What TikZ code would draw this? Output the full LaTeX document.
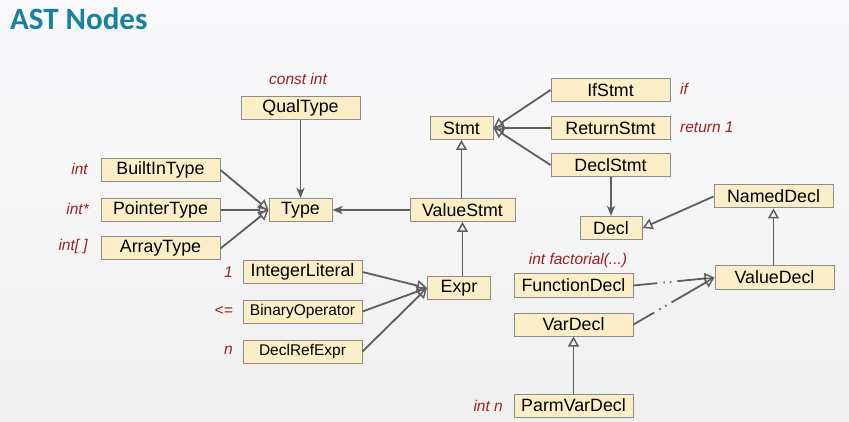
\documentclass[tikz,border=0pt]{standalone}
\usepackage{fontspec}
\setmainfont{Liberation Sans}
\newfontfamily\titlefont{Carlito}
\usetikzlibrary{arrows.meta}
\definecolor{boxfill}{HTML}{FCEFC8}
\definecolor{boxline}{HTML}{8C8C8C}
\definecolor{edge}{HTML}{5E5E5E}
\definecolor{notered}{HTML}{9E1F1F}
\definecolor{titleblue}{HTML}{17829F}
\begin{document}
\begin{tikzpicture}[x=1pt,y=-1pt,
  cls/.style={draw=boxline,line width=1pt,fill=boxfill,inner sep=0pt,
    minimum height=23pt,font=\fontsize{17.8}{18}\selectfont},
  wide/.style={cls,minimum width=119pt},
  narrow/.style={cls,minimum width=63pt},
  smalltext/.style={font=\fontsize{15.5}{16}\selectfont},
  note/.style={text=notered,inner sep=0pt,font=\fontsize{15.5}{16}\selectfont\itshape},
  isa/.style={draw=edge,line width=1.8pt,-{Triangle[open,length=10pt,width=11pt,line width=1.5pt]}},
  uses/.style={draw=edge,line width=1.8pt,-{Stealth[length=10pt,width=8pt,inset=2.5pt]}},
  weak/.style={isa,dash pattern=on 24pt off 6pt on 1.5pt off 5pt on 1.5pt off 6pt on 200pt}]
% page and background
\useasboundingbox (0,0) rectangle (849,422);
\shade[top color=white!97!blue!50!white, bottom color=black!6] (0,0) rectangle (849,422);
\fill[white!97!black,opacity=0.4] (0,0) rectangle (849,250);

\node[anchor=base west,inner sep=0pt,text=titleblue,font=\titlefont\bfseries\fontsize{31}{32}\selectfont] (title) at (10,30) {AST Nodes};

% type hierarchy
\node[wide] (qual) at (300.5,108) {QualType};
\node[wide] (builtin) at (160.5,170) {BuiltInType};
\node[wide] (pointer) at (160.5,210) {PointerType};
\node[wide] (array) at (160.5,248.5) {ArrayType};
\node[narrow] (type) at (300.5,210) {Type};

% statements
\node[narrow] (stmt) at (461.5,128) {Stmt};
\node[wide] (ifs) at (610.5,90) {IfStmt};
\node[wide] (ret) at (610.5,128) {ReturnStmt};
\node[wide] (dstmt) at (610.5,165) {DeclStmt};
\node[cls,minimum width=105pt] (vstmt) at (462.5,210) {ValueStmt};

% expressions
\node[narrow] (expr) at (459,288) {Expr};
\node[wide] (intlit) at (302.5,272) {IntegerLiteral};
\node[wide,smalltext] (binop) at (302.5,311.5) {BinaryOperator};
\node[wide,smalltext] (dref) at (302.5,351.5) {DeclRefExpr};

% declarations
\node[cls,minimum width=62pt] (decl) at (611,228) {Decl};
\node[wide] (named) at (773.5,196.5) {NamedDecl};
\node[wide] (value) at (774.5,277.5) {ValueDecl};
\node[wide] (func) at (573.5,285.5) {FunctionDecl};
\node[wide] (var) at (573.5,324.5) {VarDecl};
\node[wide] (parm) at (573.5,405.5) {ParmVarDecl};

% example notes
\node[note] (nconst) at (298,79) {const int};
\node[note,anchor=east] (nint) at (88,169) {int};
\node[note,anchor=east] (nptr) at (89,209) {int*};
\node[note,anchor=east] (narr) at (88,246.5) {int[ ]};
\node[note,anchor=west] (nif) at (680,89) {if};
\node[note,anchor=west] (nret) at (680,127.5) {return 1};
\node[note,anchor=east] (none) at (233,272.5) {1};
\node[note,anchor=east] (nle) at (233,311) {<=};
\node[note,anchor=east] (nn) at (233,350) {n};
\node[note] (nfunc) at (578,260) {int factorial(...)};
\node[note,anchor=east] (nparm) at (503,406) {int n};

% connectors
\draw[uses] (qual) -- (type);
\draw[isa] (builtin.east) -- (type.west);
\draw[isa] (pointer.east) -- (type.west);
\draw[isa] (array.east) -- (type.west);
\draw[uses] (vstmt.west) -- (type.east);
\draw[isa] (vstmt.north -| stmt) -- (stmt.south);
\draw[isa] (ifs.west) -- (stmt.east);
\draw[isa] (ret.west) -- (stmt.east);
\draw[isa] (dstmt.west) -- (stmt.east);
\draw[uses] (dstmt.south -| decl) -- (decl.north);
\draw[isa] (expr.north -| vstmt) -- (vstmt.south);
\draw[isa] (intlit.east) -- (expr.west);
\draw[isa] (binop.east) -- (expr.west);
\draw[isa] (dref.east) -- (expr.west);
\draw[isa] (named.west) -- (decl.east);
\draw[isa] (value.north -| named) -- (named.south);
\draw[weak] (func.east) -- (value.west);
\draw[weak] (var.east) -- (value.west);
\draw[isa] (parm.north) -- (var.south);
\end{tikzpicture}
\end{document}
